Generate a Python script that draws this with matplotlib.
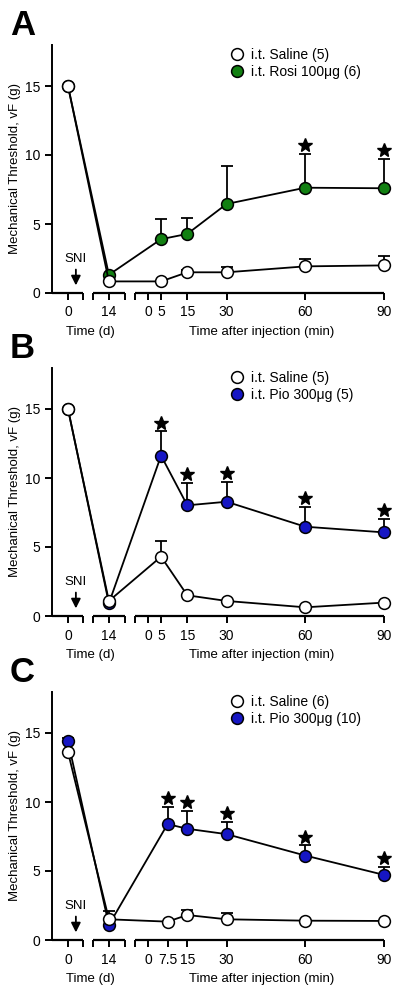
import matplotlib
matplotlib.use('Agg')
import matplotlib.pyplot as plt

plt.rcParams['font.family'] = ['Liberation Sans', 'DejaVu Sans']

# --- données ---
days = [0, 14]

# Panneau A : Rosi
minutes_a = [5, 15, 30, 60, 90]
sal_a_days = [15.0, 0.84]
sal_a_min = [0.84, 1.5, 1.5, 1.93, 2.0]
sal_a_err = [0.0, 0.15, 0.4, 0.55, 0.7]
drug_a_days = [15.0, 1.32]
drug_a_min = [3.9, 4.28, 6.45, 7.63, 7.59]
drug_a_err = [1.45, 1.12, 2.75, 2.45, 2.15]
stars_a = [False, False, False, True, True]

# Panneau B : Pio 300
minutes_b = [5, 15, 30, 60, 90]
sal_b_days = [15.0, 1.09]
sal_b_min = [4.3, 1.5, 1.09, 0.63, 0.97]
sal_b_err = [1.15, 0.0, 0.0, 0.0, 0.0]
drug_b_days = [15.0, 0.92]
drug_b_min = [11.62, 8.02, 8.28, 6.47, 6.06]
drug_b_err = [1.75, 1.6, 1.4, 1.4, 0.97]
stars_b = [True, True, True, True, True]

# Panneau C : Pio 300 (n=10)
minutes_c = [7.5, 15, 30, 60, 90]
sal_c_days = [13.62, 1.5]
sal_c_min = [1.33, 1.81, 1.5, 1.4, 1.38]
sal_c_err = [0.0, 0.35, 0.45, 0.0, 0.0]
sal_c_days_err = [0.0, 0.6]
drug_c_days = [14.4, 1.09]
drug_c_days_err = [0.25, 0.0]
drug_c_min = [8.4, 8.06, 7.67, 6.12, 4.72]
drug_c_err = [1.23, 1.3, 0.85, 0.73, 0.6]
stars_c = [True, True, True, True, True]

min_ticks_ab = [0, 5, 15, 30, 60, 90]
min_ticks_c = [0, 7.5, 15, 30, 60, 90]

GREEN = '#128012'
BLUE = '#1616c4'

# axe x brisé : jours placés à gauche du segment "minutes"
DAY0 = -30.5
DAY_SCALE = 15.6 / 14


def xday(d):
    return DAY0 + d * DAY_SCALE


def draw_panel(ax, letter, minutes, min_ticks, sal_days, sal_min, sal_err,
               drug_days, drug_min, drug_err, stars, drug_color,
               sal_label, drug_label, sal_days_err=(0, 0), drug_days_err=(0, 0)):
    xs = [xday(d) for d in days] + list(minutes)
    sal = list(sal_days) + list(sal_min)
    drug = list(drug_days) + list(drug_min)
    s_err = list(sal_days_err) + list(sal_err)
    d_err = list(drug_days_err) + list(drug_err)

    ms = 8.5
    # groupe traité
    ax.errorbar(xs, drug, yerr=[[0] * len(d_err), d_err], fmt='none', ecolor='k',
                elinewidth=1.3, capsize=4, capthick=1.3, zorder=2, clip_on=False)
    ax.plot(xs, drug, '-', color='k', lw=1.3, zorder=2, clip_on=False)
    ax.plot(xs, drug, 'o', ms=ms, mfc=drug_color, mec='k', mew=1.1, ls='none',
            zorder=3, clip_on=False, label=drug_label)
    # saline
    ax.errorbar(xs, sal, yerr=[[0] * len(s_err), s_err], fmt='none', ecolor='k',
                elinewidth=1.3, capsize=4, capthick=1.3, zorder=4, clip_on=False)
    ax.plot(xs, sal, '-', color='k', lw=1.3, zorder=4, clip_on=False)
    ax.plot(xs, sal, 'o', ms=ms, mfc='white', mec='k', mew=1.1, ls='none',
            zorder=5, clip_on=False, label=sal_label)

    # étoiles de significativité
    for m, v, e, s in zip(minutes, drug_min, drug_err, stars):
        if s:
            ax.plot(m, v + e + 0.65, marker='*', color='k', ms=10, ls='none', zorder=6)

    ax.set_ylim(0, 18)
    ax.set_xlim(-36.6, 95)
    ax.set_yticks([0, 5, 10, 15])
    ax.set_yticklabels(['0', '5', '10', '15'])
    ax.set_ylabel("Mechanical Threshold, vF (g)", fontsize=9.5, labelpad=2.5)

    # segments de l'axe x
    seg1 = (-36.6, -24.8)
    seg2 = (-21.0, -8.8)
    seg3 = (-5.0, 90)
    for a, b in (seg1, seg2, seg3):
        ax.plot([a, b], [0, 0], color='k', lw=1.6, clip_on=False, zorder=7,
                solid_capstyle='butt')
    caps = [seg1[1], seg2[0], seg2[1], seg3[0]]
    tick_pos = [xday(d) for d in days] + list(min_ticks) + caps
    tick_lab = [str(d) for d in days] + [('%g' % m) for m in min_ticks] + [''] * len(caps)
    ax.set_xticks(tick_pos)
    ax.set_xticklabels(tick_lab)

    ax.spines['bottom'].set_visible(False)
    ax.spines['top'].set_visible(False)
    ax.spines['right'].set_visible(False)
    ax.spines['left'].set_linewidth(1.4)
    ax.tick_params(axis='both', direction='out', length=5, width=1.4, labelsize=10)
    ax.tick_params(axis='x', pad=4)

    # SNI
    xa = xday(2.7)
    ax.annotate('', xy=(xa, 0.35), xytext=(xa, 1.9),
                arrowprops=dict(arrowstyle='-|>', color='k', lw=1.3, mutation_scale=14))
    ax.text(xa, 2.0, 'SNI', ha='center', va='bottom', fontsize=9.5)

    trans = ax.get_xaxis_transform()
    ax.text(-22.1, -0.158, 'Time (d)', transform=trans, ha='center', va='center', fontsize=9.5)
    ax.text(43.5, -0.158, 'Time after injection (min)', transform=trans,
            ha='center', va='center', fontsize=9.5)

    handles, labels = ax.get_legend_handles_labels()
    ax.legend(handles[::-1], labels[::-1], loc='upper left',
              bbox_to_anchor=(0.50, 1.02), frameon=False, fontsize=10,
              handlelength=0.6, handletextpad=0.7, labelspacing=0.22,
              borderaxespad=0.2)

    ax.text(-0.122, 1.145, letter, transform=ax.transAxes, fontsize=25,
            fontweight='bold', va='top', ha='left')


fig = plt.figure(figsize=(4.0, 9.94), dpi=100)
W = 345 / 400
H = 248.4 / 994
L = 52 / 400
ax_a = fig.add_axes([L, (994 - 293) / 994, W, H])
ax_b = fig.add_axes([L, (994 - 616) / 994, W, H])
ax_c = fig.add_axes([L, (994 - 940) / 994, W, H])

draw_panel(ax_a, 'A', minutes_a, min_ticks_ab, sal_a_days, sal_a_min, sal_a_err,
           drug_a_days, drug_a_min, drug_a_err, stars_a, GREEN,
           'i.t. Saline (5)', 'i.t. Rosi 100\u03bcg (6)')
draw_panel(ax_b, 'B', minutes_b, min_ticks_ab, sal_b_days, sal_b_min, sal_b_err,
           drug_b_days, drug_b_min, drug_b_err, stars_b, BLUE,
           'i.t. Saline (5)', 'i.t. Pio 300\u03bcg (5)')
draw_panel(ax_c, 'C', minutes_c, min_ticks_c, sal_c_days, sal_c_min, sal_c_err,
           drug_c_days, drug_c_min, drug_c_err, stars_c, BLUE,
           'i.t. Saline (6)', 'i.t. Pio 300\u03bcg (10)',
           sal_days_err=sal_c_days_err, drug_days_err=drug_c_days_err)

fig.savefig('out.png', dpi=100)
